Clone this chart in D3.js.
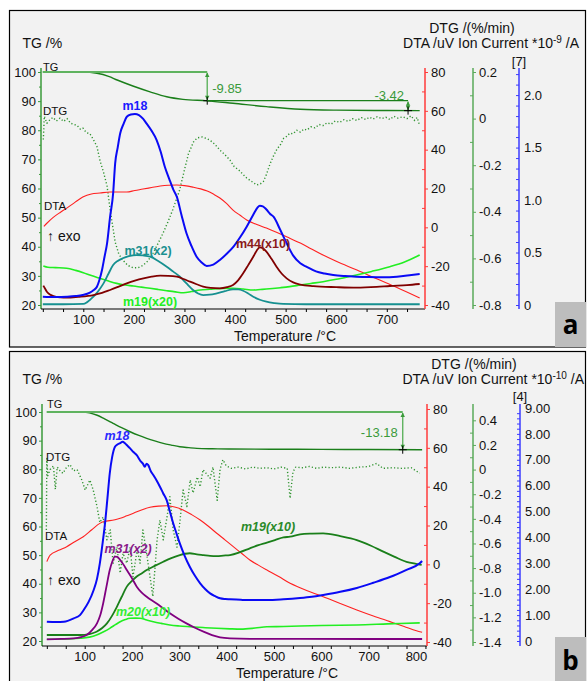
<!DOCTYPE html>
<html><head><meta charset="utf-8">
<script src="https://cdn.jsdelivr.net/npm/d3@7"></script>
<style>
body{margin:0;background:#fff}
svg{display:block}
text{font-family:"Liberation Sans",Arial,sans-serif}
</style>
</head><body>
<svg id="c" width="587" height="681"></svg>
<script>
// ---------------- tick labels ----------------
const T_TICKS_A = [100,200,300,400,500,600,700];
const T_TICKS_B = [100,200,300,400,500,600,700,800];
const TG_TICKS = [20,30,40,50,60,70,80,90,100];
const DTA_TICKS = [-40,-20,0,20,40,60,80];
const DTG_TICKS_A = [-0.8,-0.6,-0.4,-0.2,0,0.2];
const DTG_TICKS_B = [-1.4,-1.2,-1.0,-0.8,-0.6,-0.4,-0.2,0,0.2,0.4];
const ION_TICKS_A = [0,0.5,1.0,1.5,2.0];
const ION_TICKS_B = [0,1,2,3,4,5,6,7,8,9];

// ---------------- panel a data: [T (°C), value] ----------------
const tgA = [[20,100],[100,100],[127,99.55],[150,98.5],[167,97.25],[198,95.2],[232,93.2],[265,91.5],[297,90.6],[345,90.1],[396,89.25],[462,88.1],[529,87.2],[600,86.9],[700,86.78],[765,86.73]];
const dtgA = [[21,-0.09],[23,0.01],[28,-0.02],[34,-0.005],[40,0.005],[47,-0.01],[54,0.002],[61,-0.012],[68,0.0],[75,-0.02],[82,-0.025],[88,-0.03],[94,-0.045],[99,-0.04],[106,-0.06],[113,-0.065],[120,-0.09],[127,-0.12],[133,-0.18],[140,-0.23],[147,-0.29],[153,-0.39],[158,-0.46],[163,-0.53],[170,-0.58],[178,-0.607],[188,-0.63],[198,-0.64],[208,-0.64],[218,-0.63],[228,-0.61],[238,-0.577],[248,-0.535],[258,-0.49],[268,-0.44],[277,-0.39],[290,-0.31],[300,-0.22],[308,-0.15],[318,-0.1],[325,-0.083],[335,-0.079],[343,-0.085],[350,-0.092],[360,-0.11],[370,-0.135],[380,-0.155],[390,-0.178],[398,-0.205],[408,-0.222],[416,-0.24],[423,-0.255],[433,-0.27],[443,-0.285],[450,-0.28],[456,-0.27],[462,-0.24],[469,-0.195],[476,-0.16],[483,-0.13],[489,-0.115],[496,-0.085],[503,-0.075],[508,-0.063],[515,-0.065],[522,-0.05],[529,-0.058],[536,-0.045],[542,-0.049],[550,-0.035],[558,-0.04],[566,-0.025],[574,-0.03],[582,-0.018],[590,-0.024],[598,-0.01],[607,-0.016],[615,-0.005],[624,-0.012],[632,0.0],[641,-0.008],[650,0.004],[658,-0.004],[666,0.006],[673,-0.002],[681,0.008],[690,0.0],[698,0.006],[706,-0.004],[714,0.01],[722,0.002],[732,0.008],[740,0.0],[748,0.012],[755,-0.008],[760,0.005],[765,-0.03]];
const dtaA = [[22,0.5],[28,2.1],[40,5],[55,7.8],[68,10],[84,13],[99,15.6],[116,17.2],[133,17.7],[153,18.2],[170,18.2],[186,18.2],[202,19],[218,19.7],[235,20.5],[252,21.3],[268,21.7],[285,21.8],[300,21.5],[317,20.7],[332,19.8],[345,18.7],[358,17],[370,15.1],[383,12.3],[396,8.9],[410,6.2],[423,3.8],[443,1.5],[462,-0.4],[483,-2.7],[503,-5],[529,-8.1],[550,-11],[574,-14.3],[600,-17.5],[641,-22],[680,-26.5],[720,-31],[765,-36.4]];
const m18A = [[20,0.079],[45,0.076],[68,0.079],[85,0.085],[99,0.095],[113,0.117],[120,0.14],[127,0.174],[132,0.24],[137,0.333],[142,0.46],[147,0.588],[153,0.841],[159,1.064],[163,1.35],[168,1.5],[173,1.636],[180,1.73],[186,1.794],[194,1.815],[202,1.82],[210,1.81],[218,1.775],[225,1.73],[235,1.66],[245,1.572],[253,1.46],[261,1.32],[270,1.2],[278,1.1],[285,1.03],[294,0.86],[304,0.683],[314,0.56],[324,0.46],[334,0.405],[344,0.372],[357,0.385],[370,0.429],[384,0.49],[397,0.556],[410,0.645],[423,0.746],[436,0.86],[444,0.925],[449,0.946],[455,0.94],[462,0.91],[469,0.87],[476,0.841],[489,0.72],[502,0.588],[515,0.47],[529,0.397],[541,0.365],[560,0.32],[577,0.3],[594,0.286],[617,0.276],[640,0.27],[665,0.266],[693,0.264],[720,0.27],[745,0.283],[765,0.295]];
const m31A = [[20,0.007],[60,0.007],[100,0.01],[107,0.025],[113,0.048],[120,0.08],[126,0.111],[133,0.155],[140,0.206],[150,0.3],[159,0.381],[168,0.42],[178,0.445],[190,0.465],[205,0.476],[218,0.472],[232,0.46],[248,0.42],[265,0.365],[278,0.318],[291,0.27],[304,0.205],[317,0.143],[327,0.11],[337,0.095],[350,0.098],[364,0.111],[380,0.132],[396,0.149],[406,0.148],[416,0.136],[426,0.11],[436,0.079],[449,0.05],[462,0.031],[478,0.018],[495,0.01],[540,0.007],[765,0.007]];
const m44A = [[21,0.185],[24,0.159],[28,0.127],[34,0.1],[41,0.085],[55,0.073],[67,0.07],[90,0.078],[120,0.095],[137,0.115],[153,0.143],[170,0.175],[186,0.206],[202,0.232],[219,0.254],[235,0.27],[252,0.279],[268,0.278],[285,0.27],[298,0.248],[311,0.222],[324,0.198],[337,0.175],[352,0.163],[370,0.159],[384,0.17],[396,0.191],[406,0.235],[416,0.302],[426,0.38],[436,0.46],[443,0.52],[449,0.549],[455,0.54],[462,0.508],[472,0.44],[482,0.365],[492,0.3],[502,0.254],[515,0.215],[529,0.195],[555,0.18],[600,0.17],[640,0.165],[680,0.172],[706,0.181],[740,0.19],[765,0.2]];
const m19A = [[21,0.372],[30,0.36],[45,0.356],[67,0.35],[85,0.33],[100,0.308],[116,0.28],[133,0.254],[150,0.228],[166,0.206],[183,0.19],[199,0.181],[215,0.17],[232,0.159],[248,0.148],[265,0.136],[282,0.125],[298,0.117],[314,0.128],[331,0.143],[350,0.15],[375,0.158],[396,0.159],[416,0.152],[436,0.143],[450,0.148],[462,0.152],[490,0.165],[508,0.175],[529,0.19],[550,0.205],[574,0.222],[600,0.245],[620,0.265],[640,0.286],[670,0.32],[706,0.365],[735,0.41],[765,0.476]];
// TG step annotations a: [T, TG from, TG to, label]
const stepsA = [[345,100,90.15,"-9.85"],[742,90.15,86.73,"-3.42"]];

// ---------------- panel b data ----------------
const tgB = [[20,100],[97,100],[110,99.7],[125,98.95],[142,97.6],[160,96.05],[178,94.5],[196,93.1],[213,91.9],[231,90.8],[248,89.9],[266,89.06],[283,88.45],[301,87.88],[320,87.55],[337,87.3],[370,87.15],[407,87.07],[500,87.0],[600,86.95],[700,86.88],[813,86.82]];
const dtgB = [[19,-0.49],[20,0.09],[22,-0.05],[27,0.0],[34,0.03],[38,-0.16],[42,0.02],[48,-0.01],[54,-0.03],[62,0.02],[69,0.04],[76,-0.01],[84,0.0],[94,-0.085],[101,-0.166],[111,-0.085],[118,-0.166],[126,-0.30],[132,-0.43],[139,-0.385],[147,-0.57],[154,-0.49],[160,-0.76],[168,-0.63],[175,-0.84],[181,-0.68],[189,-0.76],[196,-0.63],[202,-0.87],[211,-0.65],[217,-0.76],[223,-0.49],[232,-0.71],[238,-0.87],[244,-1.03],[253,-0.57],[259,-0.41],[266,-0.57],[274,-0.385],[280,-0.22],[287,-0.49],[295,-0.63],[301,-0.43],[308,-0.166],[316,-0.30],[323,-0.085],[329,-0.19],[338,-0.06],[344,-0.14],[350,0.0],[365,-0.07],[371,0.02],[380,-0.25],[386,0.0],[392,0.08],[399,0.03],[410,0.01],[425,0.02],[440,0.005],[455,0.02],[470,0.01],[485,0.015],[500,0.005],[515,0.02],[528,0.01],[534,-0.233],[540,-0.02],[546,0.02],[560,0.015],[575,0.025],[590,0.01],[605,0.02],[620,0.015],[640,0.02],[660,0.01],[680,0.02],[700,0.025],[717,0.05],[730,0.01],[750,0.015],[770,0.01],[790,0.015],[808,-0.03]];
const dtaB = [[20,1.4],[27,4.8],[45,7.2],[62,9.1],[80,11.8],[97,14.2],[115,17.8],[132,21.1],[143,22.2],[153,22.5],[164,23],[175,23.7],[189,25],[203,26.3],[220,28],[238,29.4],[256,30],[273,30.2],[290,29.5],[308,28],[326,25.6],[344,22.8],[362,19.5],[379,16],[397,12.5],[414,9.1],[432,5.6],[449,2.2],[467,-0.4],[485,-2.9],[510,-6.3],[534,-9.8],[555,-12],[580,-14.5],[604,-16.7],[640,-20.2],[675,-23.5],[710,-26.6],[745,-29.5],[775,-32],[801,-34.2],[813,-35]];
const m18B = [[20,0.745],[40,0.73],[56,0.745],[77,0.877],[90,1.0],[98,1.2],[108,1.5],[119,1.97],[126,2.4],[132,3.0],[138,3.8],[143,4.55],[148,5.5],[153,6.48],[158,7.1],[164,7.5],[170,7.6],[175,7.64],[180,7.7],[185,7.64],[190,7.55],[196,7.44],[203,7.3],[210,7.18],[218,6.95],[223,6.85],[227,6.73],[231,6.85],[234,6.8],[240,6.55],[245,6.41],[252,6.2],[259,5.96],[266,5.7],[273,5.45],[280,5.0],[287,4.55],[294,4.15],[301,3.77],[311,3.3],[322,2.87],[333,2.52],[344,2.23],[355,2.0],[365,1.84],[376,1.73],[386,1.65],[397,1.62],[407,1.61],[430,1.59],[449,1.58],[485,1.58],[520,1.61],[555,1.66],[580,1.71],[604,1.78],[640,1.9],[675,2.05],[710,2.25],[745,2.47],[780,2.75],[808,3.0],[813,3.09]];
const m31B = [[20,0.066],[50,0.08],[77,0.104],[92,0.15],[104,0.232],[116,0.43],[126,0.68],[133,1.0],[139,1.45],[146,2.1],[153,2.74],[158,3.05],[164,3.26],[169,3.25],[175,3.13],[182,2.95],[189,2.74],[200,2.42],[210,2.10],[220,1.88],[231,1.71],[241,1.58],[252,1.45],[266,1.26],[280,1.07],[297,0.87],[315,0.68],[333,0.51],[351,0.36],[369,0.23],[386,0.143],[407,0.104],[450,0.085],[550,0.08],[700,0.078],[813,0.077]];
const m19B = [[20,0.232],[50,0.232],[90,0.232],[110,0.27],[125,0.36],[137,0.5],[147,0.68],[158,0.98],[168,1.32],[178,1.7],[189,2.1],[200,2.32],[210,2.49],[221,2.62],[231,2.74],[248,2.9],[266,3.06],[283,3.2],[301,3.32],[312,3.37],[322,3.39],[337,3.35],[351,3.32],[365,3.29],[379,3.28],[393,3.3],[407,3.32],[428,3.43],[449,3.58],[467,3.7],[485,3.8],[502,3.9],[520,4.0],[534,4.03],[555,4.12],[580,4.15],[604,4.16],[640,4.05],[675,3.9],[705,3.68],[731,3.45],[755,3.25],[780,3.06],[800,2.98],[812,2.94]];
const m20B = [[20,0.066],[60,0.08],[90,0.104],[110,0.15],[125,0.232],[140,0.36],[153,0.49],[165,0.63],[175,0.745],[186,0.83],[196,0.877],[207,0.885],[217,0.877],[231,0.81],[245,0.745],[262,0.68],[280,0.618],[300,0.58],[322,0.552],[350,0.52],[379,0.49],[407,0.47],[430,0.46],[460,0.5],[485,0.55],[520,0.56],[555,0.58],[600,0.6],[640,0.61],[675,0.62],[740,0.66],[808,0.7]];
const stepsB = [[772,100,86.82,"-13.18"]];

// ---------------- drawing ----------------
const svg = d3.select('#c');
const C = {
  tg:'#1b7f1b', base:'#5fb35f', dtg:'#2f932f', dta:'#ff2020',
  tgAxis:'#3a9a3a', dtgAxis:'#5aaa5a', ionAxis:'#3b3bff', dtaAxis:'#ff3b3b'
};

function fmtDtg(d){ return d===0 ? "0" : d.toFixed(1); }

function drawPanel(p){
  const g = svg.append('g');
  g.append('rect').attr('x',p.box[0]).attr('y',p.box[1]).attr('width',p.box[2]).attr('height',p.box[3])
    .attr('fill','#f2f2f2').attr('stroke','#000').attr('stroke-width',1.2);

  const x = d3.scaleLinear().domain(p.xDom).range([p.left,p.right]);
  const yTG = d3.scaleLinear().domain([20,100]).range(p.tgR);
  const yDTA = d3.scaleLinear().domain([-40,80]).range(p.dtaR);
  const yDTG = d3.scaleLinear().domain(p.dtgDom).range(p.dtgR);
  const yIon = d3.scaleLinear().domain(p.ionDom).range(p.ionR);

  // axis lines
  const axLine=(x1,y1,x2,y2,col,w)=>g.append('line').attr('x1',x1).attr('y1',y1).attr('x2',x2).attr('y2',y2).attr('stroke',col).attr('stroke-width',w);
  axLine(p.left,p.axTop,p.left,p.axBot,C.tgAxis,1.5);
  axLine(p.left,p.axBot,p.right,p.axBot,'#000',1);
  axLine(p.right,p.axTop,p.right,p.axBot,C.dtaAxis,1.5);
  axLine(p.dtgX,p.axTop,p.dtgX,p.axBot,C.dtgAxis,1.5);
  axLine(p.ionX,p.axTop,p.ionX,p.axBot,C.ionAxis,1.5);

  const styleAxis=(sel,col)=>{
    sel.select('.domain').remove();
    sel.selectAll('line').attr('stroke',col);
    sel.selectAll('text').attr('fill','#111').style('font-size','13px');
  };

  // x axis
  const xa = g.append('g').attr('transform',`translate(0,${p.axBot})`)
    .call(d3.axisBottom(x).tickValues(p.tTicks).tickSize(0).tickPadding(p.xPad).tickFormat(d3.format('d')));
  styleAxis(xa,'#000');
  const xm = g.append('g').attr('transform',`translate(0,${p.axBot})`)
    .call(d3.axisBottom(x).tickValues(d3.range(20,p.xDom[1],40)).tickSize(3).tickFormat(''));
  styleAxis(xm,'#000');

  // TG axis
  const ta = g.append('g').attr('transform',`translate(${p.left},0)`)
    .call(d3.axisLeft(yTG).tickValues(TG_TICKS).tickSize(3).tickPadding(2).tickFormat(d3.format('d')));
  styleAxis(ta,C.tgAxis);
  const tm = g.append('g').attr('transform',`translate(${p.left},0)`)
    .call(d3.axisLeft(yTG).tickValues(d3.range(25,100,10)).tickSize(2).tickFormat(''));
  styleAxis(tm,C.tgAxis);

  // DTA axis
  const da = g.append('g').attr('transform',`translate(${p.right},0)`)
    .call(d3.axisRight(yDTA).tickValues(DTA_TICKS).tickSize(3).tickPadding(3).tickFormat(d=>String(d)));
  styleAxis(da,C.dtaAxis);
  const dm = g.append('g').attr('transform',`translate(${p.right},0)`)
    .call(d3.axisLeft(yDTA).tickValues(d3.range(-30,80,20)).tickSize(3).tickFormat(''));
  styleAxis(dm,C.dtaAxis);

  // DTG axis
  const ga = g.append('g').attr('transform',`translate(${p.dtgX},0)`)
    .call(d3.axisRight(yDTG).tickValues(p.dtgTicks).tickSize(3).tickPadding(3).tickFormat(fmtDtg));
  styleAxis(ga,C.dtgAxis);
  const gm = g.append('g').attr('transform',`translate(${p.dtgX},0)`)
    .call(d3.axisLeft(yDTG).tickValues(p.dtgTicks.map(v=>v+0.1).filter(v=>v<p.dtgDom[1])).tickSize(3).tickFormat(''));
  styleAxis(gm,C.dtgAxis);

  // Ion axis
  const ia = g.append('g').attr('transform',`translate(${p.ionX},0)`)
    .call(d3.axisRight(yIon).tickValues(p.ionTicks).tickSize(0).tickPadding(5).tickFormat(p.ionFmt));
  styleAxis(ia,C.ionAxis);
  const im = g.append('g').attr('transform',`translate(${p.ionX},0)`)
    .call(d3.axisLeft(yIon).tickValues(d3.range(0,p.ionDom[1],p.ionMinor)).tickSize(3).tickFormat(''));
  styleAxis(im,C.ionAxis);

  // curves
  const line=(ys,curve)=>d3.line().x(d=>x(d[0])).y(d=>ys(d[1])).curve(curve||d3.curveMonotoneX);
  const path=(data,ys,col,w,dash,curve)=>{
    const pth=g.append('path').datum(data).attr('d',line(ys,curve)).attr('fill','none')
      .attr('stroke',col).attr('stroke-width',w).attr('stroke-linejoin','round');
    if(dash) pth.attr('stroke-dasharray',dash);
  };
  path(p.dtg,yDTG,C.dtg,1.4,'1.2,2.2',d3.curveLinear);
  path(p.dta,yDTA,C.dta,1.1);
  p.ions.forEach(s=>path(s.data,yIon,s.color,s.w||1.8));
  path(p.tg,yTG,C.tg,1.4);

  // TG step annotations
  p.steps.forEach((s,i)=>{
    const xs=x(s[0]), y1=yTG(s[1]), y2=yTG(s[2]);
    const x0 = i===0 ? x(p.tg[0][0]) : x(p.steps[i-1][0]);
    g.append('line').attr('x1',x0).attr('x2',xs).attr('y1',y1).attr('y2',y1)
      .attr('stroke', i===0?C.base:C.tg).attr('stroke-width', i===0?2:1.2);
    g.append('line').attr('x1',xs).attr('x2',xs).attr('y1',y1+1).attr('y2',y2-1).attr('stroke',C.base).attr('stroke-width',1.4);
    g.append('path').attr('d',`M${xs-2.2},${y1+5}L${xs},${y1+0.5}L${xs+2.2},${y1+5}Z`).attr('fill',C.tgAxis);
    g.append('path').attr('d',`M${xs-2.2},${y2-5}L${xs},${y2-0.5}L${xs+2.2},${y2-5}Z`).attr('fill',C.tgAxis);
    g.append('path').attr('d',`M${xs-4},${y2}H${xs+4}M${xs},${y2-4}V${y2+4}`).attr('stroke','#000').attr('stroke-width',1);
    const lab = p.stepLab[i];
    g.append('text').attr('x',xs+lab[0]).attr('y',lab[1]).attr('text-anchor',lab[2])
      .attr('fill','#3a9a3a').style('font-size','13px').text(s[3]);
  });

  // text labels
  const txt=(t,xx,yy,opt={})=>{
    const e=g.append('text').attr('x',xx).attr('y',yy).text(t)
      .style('font-size',(opt.size||13)+'px').attr('fill',opt.color||'#111');
    if(opt.bold) e.style('font-weight','bold');
    if(opt.italic) e.style('font-style','italic');
    if(opt.anchor) e.attr('text-anchor',opt.anchor);
    return e;
  };
  txt('TG /%',p.box[0]+13,p.hdr2,{size:14});
  txt('DTG /(%/min)',p.hdr1x,p.hdr1,{size:14,anchor:'middle'});
  const h=txt('',p.hdr2x,p.hdr2,{size:14,anchor:'end'});
  h.append('tspan').text(p.dtaHdr[0]);
  h.append('tspan').text(p.dtaHdr[1]).attr('dy',-5).style('font-size','10px');
  h.append('tspan').text(' /A').attr('dy',5);
  txt(p.bracket,p.ionX,p.bracketY,{size:13,anchor:'middle'});
  txt('Temperature /°C',p.tempX,p.tempY,{size:14,anchor:'middle'});
  p.small.forEach(s=>txt(s[0],s[1],s[2],{size:s[3]}));
  p.curveLabels.forEach(s=>txt(s[0],s[1],s[2],{size:12.5,bold:true,italic:p.italic,color:s[3],anchor:'middle'}));

  // panel letter box
  g.append('rect').attr('x',p.letter[0]).attr('y',p.letter[1]).attr('width',p.letter[2]).attr('height',p.letter[3]).attr('fill','#bdbdbd');
  txt(p.letter[4],p.letter[0]+p.letter[2]/2,p.letter[5],{size:26,bold:true,anchor:'middle',color:'#000'}).style('font-family','"Open Sans","DejaVu Sans",sans-serif');
}

drawPanel({
  box:[9.5,10.5,576,336.5],
  xDom:[16.4,775.5], left:41, right:425, axTop:68, axBot:309, xPad:6,
  tgR:[305,72], dtaR:[305,72], dtgDom:[-0.8,0.2], dtgR:[305,72], ionDom:[0,2.22], ionR:[305,72],
  dtgX:473, ionX:519, tTicks:T_TICKS_A, dtgTicks:DTG_TICKS_A, ionTicks:ION_TICKS_A,
  ionFmt:d=>d===0?"0":d.toFixed(1), ionMinor:0.1,
  tg:tgA, dtg:dtgA, dta:dtaA,
  ions:[{data:m19A,color:'#22ee22',w:1.6},{data:m31A,color:'#169090'},{data:m44A,color:'#800000'},{data:m18A,color:'#0a0af5',w:2}],
  steps:stepsA, stepLab:[[5,93,'start'],[-4,99.5,'end']],
  hdr1:33, hdr1x:472, hdr2:48, hdr2x:579, dtaHdr:['DTA /uV  Ion Current *10','-9'], bracket:'[7]', bracketY:66,
  tempX:285, tempY:341,
  small:[['TG',43,71,11],['DTG',43,115,11.5],['DTA',44,210,11.5],['\u2191 exo',47,241,14]],
  curveLabels:[['m18',135,110,'#1a1aff'],['m31(x2)',148,255,'#1a9090'],['m44(x10)',263,248,'#8b1a1a'],['m19(x20)',150,306,'#22ee22']],
  italic:false,
  letter:[555,302,31,45,'a',334]
});

drawPanel({
  box:[9.5,351.5,576,340],
  xDom:[9.8,823.3], left:42, right:427, axTop:404, axBot:646, xPad:6,
  tgR:[641,412], dtaR:[642,409], dtgDom:[-1.4,0.5], dtgR:[642,408], ionDom:[0,9], ionR:[641,408],
  dtgX:473, ionX:520, tTicks:T_TICKS_B, dtgTicks:DTG_TICKS_B, ionTicks:ION_TICKS_B,
  ionFmt:d=>d===0?"0":d.toFixed(2), ionMinor:0.2,
  tg:tgB, dtg:dtgB, dta:dtaB,
  ions:[{data:m20B,color:'#22ee22',w:1.6},{data:m19B,color:'#1a7f1a'},{data:m31B,color:'#800080'},{data:m18B,color:'#0a0af5',w:2}],
  steps:stepsB, stepLab:[[-5,437,'end']],
  hdr1:369, hdr1x:474, hdr2:384, hdr2x:584, dtaHdr:['DTA /uV Ion Current *10','-10'], bracket:'[4]', bracketY:401,
  tempX:287, tempY:678,
  small:[['TG',47,408,11],['DTG',46,461,11.5],['DTA',45,540,11.5],['\u2191 exo',47,585,14]],
  curveLabels:[['m18',117,440,'#2a2aff'],['m31(x2)',128,553,'#8a1a8a'],['m19(x10)',268,531,'#2a8a2a'],['m20(x10)',143,616,'#33ee33']],
  italic:true,
  letter:[555,637,31,44,'b',670]
});
</script>
</body></html>
